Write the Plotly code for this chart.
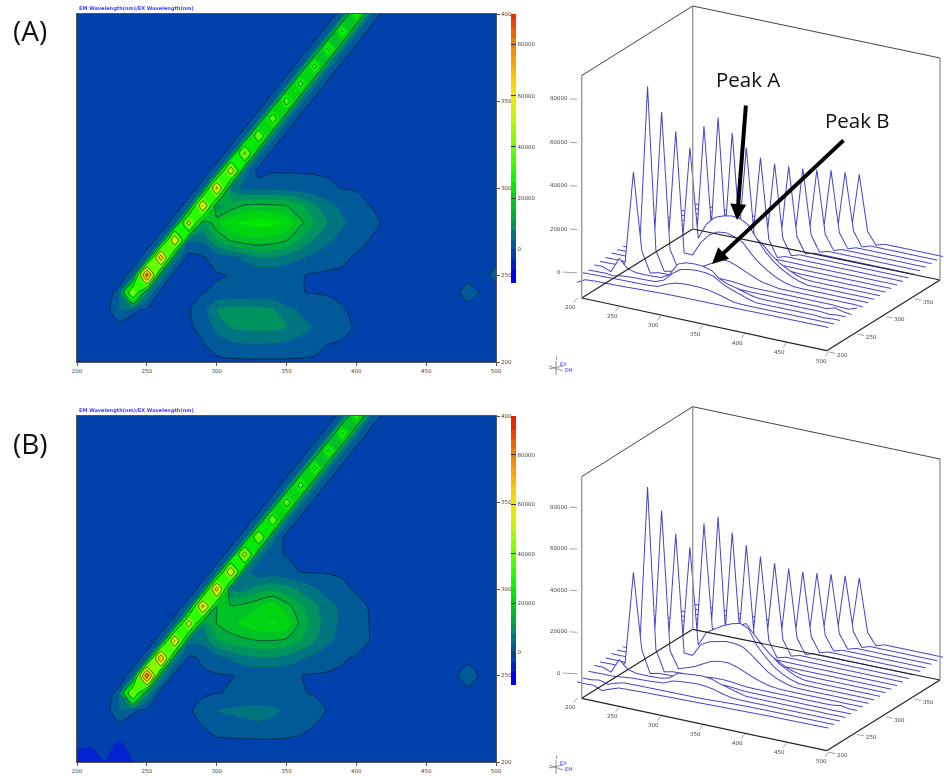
import plotly.graph_objects as go

W, H = 944, 776
em_nm = [200 + 10 * i for i in range(31)]
ex_nm = [200 + 10 * i for i in range(21)]
em_ticks = [200, 250, 300, 350, 400, 450, 500]
ex_ticks = [200, 250, 300, 350, 400]
z_ticks = [0, 20000, 40000, 60000, 80000]

sample_a = [
 [-4200,-2200,-1900,-1800,-1750,-1650,-1500,-1350,-1200,-1100,-900,-800,-750,-700,-700,-650,-650,-600,-550,-500,-450,-400,-350,-300,-300,-250,-250,-200,-200,-150,-150],
 [-1400,-1300,-1200,-1100,-1000,-950,-900,-800,-700,-300,1600,2900,3400,3500,3400,3000,2200,1100,-50,-300,-350,-350,-300,-300,-250,-250,-250,-200,-200,-200,-150],
 [-1800,-1700,-1600,-2000,-1200,-900,-800,-700,-500,1000,4800,7600,8400,8700,8500,7600,5100,3400,2100,700,-300,-350,-300,-300,-250,-250,-250,-200,-600,-200,-150],
 [-1100,-1000,-2600,4400,500,-500,-600,-500,-300,2000,7600,9000,9300,9000,8000,4800,3200,2300,1200,100,-300,-300,-300,-250,-250,-250,-200,-200,-600,-150,-150],
 [-1100,-1000,-900,600,43450,8000,-1500,-500,-400,-100,500,600,600,500,500,400,100,-200,-300,-300,-300,-300,-300,-300,-300,-300,-300,-500,700,-200,-700],
 [-900,-900,-850,-1500,1200,82100,7300,-1500,-600,-400,-300,150,500,600,650,550,150,-300,-350,-350,-300,-300,-300,-300,-300,-300,-300,-300,-600,-700,600],
 [-500,-500,-500,-500,-1500,1200,69500,7000,-1500,-400,1500,2600,4700,7400,7300,6000,4200,2500,1000,400,-300,-300,-300,-300,-250,-250,-250,-200,-200,-200,-500],
 [-530,-500,-480,-450,-400,-1500,1200,59800,4500,4500,11000,15400,17500,18000,17000,15200,10800,7200,4500,2300,800,-100,-300,-300,-300,-250,-250,-250,-200,-200,-200],
 [-600,-550,-500,-450,-400,-350,-1500,1200,51400,10500,18000,21800,23300,24100,23700,21500,16000,11000,7200,4400,2300,700,-300,-300,-300,-250,-250,-250,-200,-200,-200],
 [-500,-500,-450,-400,-400,-350,-300,-1500,1200,60600,9000,12500,15300,15800,15500,14800,11800,8000,5000,2800,1100,-50,-300,-300,-300,-250,-250,-250,-200,-200,-200],
 [-450,-450,-400,-400,-350,-350,-300,-300,-1500,1200,63800,6500,2200,2300,2200,1900,1500,1000,400,-100,-300,-300,-300,-300,-250,-250,-250,-200,-200,-200,-150],
 [-450,-400,-400,-350,-350,-350,-300,-300,-250,-1500,1200,55800,6000,-1500,-350,-300,-300,-300,-300,-300,-300,-300,-250,-250,-250,-250,-200,-200,-200,-200,-150],
 [-400,-400,-350,-350,-350,-300,-300,-300,-250,-250,-1500,1200,48300,6000,-1500,-300,-300,-300,-300,-300,-300,-250,-250,-250,-250,-200,-200,-200,-200,-150,-150],
 [-400,-400,-350,-350,-300,-300,-300,-300,-250,-250,-200,-1500,1200,42800,6000,-1500,-300,-300,-300,-300,-250,-250,-250,-250,-200,-200,-200,-200,-150,-150,-150],
 [-400,-350,-350,-350,-300,-300,-300,-250,-250,-250,-200,-200,-1500,1200,39200,5500,-1500,-300,-300,-300,-250,-250,-250,-250,-200,-200,-200,-200,-150,-150,-150],
 [-350,-350,-350,-300,-300,-300,-300,-250,-250,-200,-200,-200,-200,-1500,1200,37200,5500,-1500,-300,-300,-250,-250,-250,-200,-200,-200,-200,-150,-150,-150,-150],
 [-350,-350,-300,-300,-300,-300,-250,-250,-250,-200,-200,-200,-200,-150,-1500,1200,35400,5500,-1500,-300,-250,-250,-250,-200,-200,-200,-200,-150,-150,-150,-100],
 [-350,-300,-300,-300,-300,-250,-250,-250,-200,-200,-200,-200,-150,-150,-150,-1500,1200,34100,5000,-1500,-250,-250,-200,-200,-200,-200,-150,-150,-150,-150,-100],
 [-300,-300,-300,-300,-250,-250,-250,-200,-200,-200,-200,-150,-150,-150,-150,-150,-1500,1200,33000,5000,-1500,-250,-200,-200,-200,-200,-150,-150,-150,-100,-100],
 [-300,-300,-300,-250,-250,-250,-200,-200,-200,-200,-150,-150,-150,-150,-150,-150,-150,-1500,1200,31300,5000,-1500,-200,-200,-200,-150,-150,-150,-150,-100,-100],
 [-300,-300,-250,-250,-250,-200,-200,-200,-200,-150,-150,-150,-150,-150,-150,-150,-150,-150,-1500,1200,29500,4000,-1500,-200,-200,-150,-150,-150,-100,-100,-100],
]

sample_b = [
 [-3900,-4000,-3800,-5500,-3900,-2500,-2300,-2200,-2000,-1900,-1800,-1700,-1600,-1500,-1400,-1300,-1200,-1100,-1000,-900,-800,-700,-600,-500,-450,-400,-350,-300,-250,-200,-150],
 [-3700,-3700,-3000,-4200,-2700,-1800,-1700,-1600,-1600,-1550,-1500,-1450,-1400,-1400,-1350,-1200,-1000,-800,-600,-500,-400,-350,-300,-300,-250,-250,-250,-200,-200,-200,-150],
 [-2200,-2100,-2000,-2000,-1500,-1000,-800,-700,-400,-50,1800,2400,2700,3000,2700,2000,800,-100,-300,-350,-350,-300,-300,-300,-250,-250,-250,-200,-200,-200,-150],
 [-1100,-1000,-2600,4300,500,-500,-600,-500,-300,700,3900,4300,4800,5000,4500,3100,2000,900,-200,-300,-300,-300,-300,-250,-250,-250,-200,-200,-300,-150,-150],
 [-1100,-1000,-900,600,45400,9100,-1500,-500,-400,-300,-100,200,500,600,600,500,200,-200,-300,-300,-300,-300,-300,-300,-300,-300,-300,-250,-300,-200,-200],
 [-900,-900,-850,-1500,1200,85700,8300,-1500,-600,-400,-300,-100,300,700,800,600,50,-300,-350,-350,-300,-300,-300,-300,-300,-300,-300,-200,500,-200,-200],
 [-500,-500,-500,-500,-1500,1200,73600,7000,-800,500,2000,4200,6200,7000,7100,6000,4300,2600,1200,200,-200,-300,-300,-300,-250,-250,-250,-200,-300,-200,-200],
 [-530,-500,-480,-450,-400,-1500,1200,61600,5000,4700,10800,13000,14000,14900,14800,14000,11200,7800,4500,2400,900,-100,-300,-300,-300,-250,-250,-250,-200,-200,-200],
 [-600,-550,-500,-450,-400,-350,-1500,1200,54200,8000,15000,17500,20000,21700,22800,21000,13800,9300,5400,2900,1000,-100,-300,-300,-300,-250,-250,-250,-200,-200,-200],
 [-500,-500,-450,-400,-400,-350,-300,-1500,1200,64800,15000,15500,16500,18500,21000,16500,12000,8300,5000,2800,700,-200,-300,-300,-300,-250,-250,-250,-200,-200,-200],
 [-450,-450,-400,-400,-350,-350,-300,-300,-1500,1200,67200,6500,6000,9000,10500,9000,6500,4300,2000,500,-300,-300,-300,-300,-250,-250,-250,-200,-200,-200,-150],
 [-450,-400,-400,-350,-350,-350,-300,-300,-250,-1500,1200,58700,6000,1000,1500,800,-50,-300,-300,-300,-300,-300,-250,-250,-250,-250,-200,-200,-200,-200,-150],
 [-400,-400,-350,-350,-350,-300,-300,-300,-250,-250,-1500,1200,51800,6000,300,-100,-300,-300,-300,-300,-300,-250,-250,-250,-250,-200,-200,-200,-200,-150,-150],
 [-400,-400,-350,-350,-300,-300,-300,-300,-250,-250,-200,-1500,1200,45500,6000,-1500,-300,-300,-300,-300,-250,-250,-250,-250,-200,-200,-200,-200,-150,-150,-150],
 [-400,-350,-350,-350,-300,-300,-300,-250,-250,-250,-200,-200,-1500,1200,41500,5500,-1500,-300,-300,-300,-250,-250,-250,-250,-200,-200,-200,-200,-150,-150,-150],
 [-350,-350,-350,-300,-300,-300,-300,-250,-250,-200,-200,-200,-200,-1500,1200,38100,5500,-1500,-300,-300,-250,-250,-250,-200,-200,-200,-200,-150,-150,-150,-150],
 [-350,-350,-300,-300,-300,-300,-250,-250,-250,-200,-200,-200,-200,-150,-1500,1200,35700,5500,-1500,-300,-250,-250,-250,-200,-200,-200,-200,-150,-150,-150,-100],
 [-350,-300,-300,-300,-300,-250,-250,-250,-200,-200,-200,-200,-150,-150,-150,-1500,1200,34200,5000,-1500,-250,-250,-200,-200,-200,-200,-150,-150,-150,-150,-100],
 [-300,-300,-300,-300,-250,-250,-250,-200,-200,-200,-200,-150,-150,-150,-150,-150,-1500,1200,32900,5000,-1500,-250,-200,-200,-200,-200,-150,-150,-150,-100,-100],
 [-300,-300,-300,-250,-250,-250,-200,-200,-200,-200,-150,-150,-150,-150,-150,-150,-150,-1500,1200,31300,5000,-1500,-200,-200,-200,-150,-150,-150,-150,-100,-100],
 [-300,-300,-250,-250,-250,-200,-200,-200,-200,-150,-150,-150,-150,-150,-150,-150,-150,-150,-1500,1200,29400,4000,-1500,-200,-200,-150,-150,-150,-100,-100,-100],
]
for tbl in (sample_a, sample_b):
    for i, r in enumerate(tbl):
        if len(r) != 31:
            print("bad row", i, len(r))

level_colors = ["#0000ff","#0000ff","#0024cc","#0044a8","#005e96","#007a7a","#009858","#00b038","#00c81e","#00dc0a","#00f000",
                "#18ff00","#38ff00","#58ff00","#78ff00","#98fb00","#b8f800","#d0f000","#e8ec00","#f4e400","#f8d400",
                "#f8c000","#f8a800","#f49400","#f08000","#f06400","#f04800","#ee2c00","#ee1800","#ee0800"]

def Fx(x0, x1):
    return [x0 / W, x1 / W]
def Fy(y0, y1):
    return [1 - y1 / H, 1 - y0 / H]

panels = [
    dict(data=sample_a, xa="x", ya="y", sc="scene", top=14, bot=362, cb_top=14, cb_len=269, zend=90000,
         box=[(581.7,298),(826.7,350.7),(940,280),(692.7,229)], ztop=[75.6,6,58], zr=[-11500,90600],
         cy=178.7, lab="(A)", laby=30, title_y=8.5, glyph=368),
    dict(data=sample_b, xa="x2", ya="y2", sc="scene2", top=416, bot=762, cb_top=416, cb_len=269, zend=93750,
         box=[(581.7,698.3),(826.7,750.7),(940,680),(692.7,629.3)], ztop=[476.7,406.7,459], zr=[-11700,94900],
         cy=579, lab="(B)", laby=443, title_y=410.5, glyph=767),
]

fig = go.Figure()
shapes, annos = [], []
layout = {}
eye_dist = 5.0
eye_dir = (0.473, -0.802, 0.364)
LINE = "#4444c8"
TICKFONT = dict(size=5.5, color="#444", family="DejaVu Sans")
PAD_NM = 3
PAD_Z = 1500

for p in panels:
    n = p["xa"][1:]
    nc = int((p["zend"] + 11250) / 3750) + 1
    scale = [[i / (nc - 1), level_colors[i]] for i in range(nc)]
    fig.add_trace(go.Contour(x=em_nm, y=ex_nm, z=p["data"], xaxis=p["xa"], yaxis=p["ya"],
        autocontour=False, contours=dict(start=-11250, end=p["zend"], size=3750, coloring="fill", showlines=False),
        line=dict(width=0, smoothing=0.6), colorscale=scale, hoverinfo="skip",
        colorbar=dict(thickness=5, thicknessmode="pixels", len=p["cb_len"] / H, lenmode="fraction",
                      x=511 / W, xanchor="left", xpad=0, y=1 - p["cb_top"] / H, yanchor="top", ypad=0,
                      tickvals=z_ticks, ticks="inside", ticklen=5, tickcolor="#333", tickwidth=1,
                      tickfont=TICKFONT, outlinewidth=0, tickformat="d")))
    fig.add_trace(go.Contour(x=em_nm, y=ex_nm, z=p["data"], xaxis=p["xa"], yaxis=p["ya"],
        autocontour=False, contours=dict(start=0, end=75000, size=15000, coloring="none"),
        line=dict(width=0.8, color="rgba(0,25,40,0.8)", smoothing=0.6), showscale=False, hoverinfo="skip"))
    layout["xaxis" + n] = dict(domain=Fx(77, 496), range=[200, 500], tickvals=em_ticks, ticks="outside", ticklen=3,
        tickcolor="#555", tickfont=TICKFONT, showgrid=False, zeroline=False,
        showline=True, linecolor="#555", linewidth=1, mirror=True, anchor=p["ya"])
    layout["yaxis" + n] = dict(domain=Fy(p["top"], p["bot"]), range=[200, 400], tickvals=ex_ticks, ticks="outside", ticklen=3,
        tickcolor="#555", tickfont=TICKFONT, showgrid=False, zeroline=False,
        showline=True, linecolor="#555", linewidth=1, mirror=True, side="right", anchor=p["xa"])
    floor = p["zr"][0]
    for ex, row in zip(ex_nm, p["data"]):
        fig.add_trace(go.Surface(x=em_nm, y=[ex + 0.4, ex + 0.4], z=[[floor] * len(row), row], scene=p["sc"],
            surfacecolor=[[0] * len(row), [0] * len(row)], colorscale=[[0, "#ffffff"], [1, "#ffffff"]], showscale=False,
            hoverinfo="skip", lighting=dict(ambient=1, diffuse=0, specular=0, roughness=1, fresnel=0),
            contours=dict(x=dict(highlight=False), y=dict(highlight=False), z=dict(highlight=False))))
        fig.add_trace(go.Scatter3d(x=em_nm, y=[ex] * len(row), z=row, mode="lines", scene=p["sc"],
            line=dict(color=LINE, width=2), hoverinfo="skip", showlegend=False))
    tick_notes = []
    base = dict(showarrow=True, arrowhead=0, arrowwidth=0.6, arrowcolor="#666", font=TICKFONT, bgcolor="rgba(0,0,0,0)")
    for v in z_ticks:
        tick_notes.append(dict(x=200, y=200, z=v, text=str(v), ax=-18, ay=-1, **base))
    for v in em_ticks:
        tick_notes.append(dict(x=v, y=200, z=floor, text=str(v), ax=-7, ay=9, **base))
    for v in ex_ticks[:-1]:
        tick_notes.append(dict(x=500, y=v, z=floor, text=str(v), ax=14, ay=3, **base))
    hidden = dict(visible=False)
    zspan = p["zr"][1] - p["zr"][0]
    layout[p["sc"]] = dict(domain=dict(x=Fx(576.3, 944), y=Fy(p["cy"] - 178, p["cy"] + 178)),
        xaxis=dict(range=[200 - PAD_NM, 500 + PAD_NM], **hidden), yaxis=dict(range=[200 - PAD_NM, 400 + PAD_NM], **hidden),
        zaxis=dict(range=[p["zr"][0] - PAD_Z, p["zr"][1] + PAD_Z], **hidden), annotations=tick_notes,
        aspectmode="manual",
        aspectratio=dict(x=1.64 * (300 + 2 * PAD_NM) / 300, y=1.268 * (200 + 2 * PAD_NM) / 200, z=1.336 * (zspan + 2 * PAD_Z) / zspan),
        camera=dict(projection=dict(type="orthographic"),
                    eye=dict(x=eye_dir[0] * eye_dist, y=eye_dir[1] * eye_dist, z=eye_dir[2] * eye_dist),
                    center=dict(x=0, y=0, z=0), up=dict(x=0, y=0, z=1)))
    b = p["box"]; t = p["ztop"]
    def seg(a, c, col, w):
        shapes.append(dict(type="line", xref="paper", yref="paper", x0=a[0] / W, y0=1 - a[1] / H, x1=c[0] / W, y1=1 - c[1] / H,
                           line=dict(color=col, width=w), layer="above"))
    seg(b[0], b[1], "#222", 1.2); seg(b[1], b[2], "#222", 1.2); seg(b[2], b[3], "#222", 1.2); seg(b[3], b[0], "#222", 1.2)
    seg(b[0], (b[0][0], t[0]), "#999", 1.4); seg(b[3], (b[3][0], t[1]), "#999", 1.4); seg(b[2], (b[2][0], t[2]), "#999", 1.4)
    seg((b[0][0], t[0]), (b[3][0], t[1]), "#444", 1); seg((b[3][0], t[1]), (b[2][0], t[2]), "#444", 1)
    annos.append(dict(text=p["lab"], x=11 / W, y=1 - p["laby"] / H, xref="paper", yref="paper", xanchor="left", yanchor="middle",
                      showarrow=False, font=dict(size=28, color="#111", family="Open Sans")))
    annos.append(dict(text="<b>EM Wavelength(nm)/EX Wavelength(nm)</b>", x=77 / W, y=1 - p["title_y"] / H, xref="paper", yref="paper",
                      xanchor="left", yanchor="middle", showarrow=False, font=dict(size=5, color="#3a3aff", family="DejaVu Sans")))
    g = p["glyph"]
    seg((549, g + 1), (563, g - 2), "#777", 0.8); seg((556, g - 7), (556, g + 7), "#777", 0.8); seg((549, g - 2), (563, g + 3), "#777", 0.8)
    for txt, dx, dy in [("I", 556.5, g - 10), ("EX", 563, g - 4), ("EM", 568, g + 2)]:
        annos.append(dict(text=txt, x=dx / W, y=1 - dy / H, xref="paper", yref="paper", showarrow=False, xanchor="center", yanchor="middle",
                          font=dict(size=5, color="#3a3aff", family="DejaVu Sans")))

for txt, x, y in [("Peak A", 748, 79), ("Peak B", 857, 120)]:
    annos.append(dict(text=txt, x=x / W, y=1 - y / H, xref="paper", yref="paper", showarrow=False, xanchor="center", yanchor="middle",
                      font=dict(size=20.5, color="#111", family="Open Sans")))
for (x0, y0, x1, y1) in [(746, 104, 737, 220), (845, 139, 712, 264)]:
    annos.append(dict(text="", x=x1 / W, y=1 - y1 / H, xref="paper", yref="paper", showarrow=True, ax=x0 - x1, ay=y0 - y1,
                      axref="pixel", ayref="pixel", arrowhead=2, arrowsize=0.8, arrowwidth=4, arrowcolor="#000"))

fig.update_layout(width=W, height=H, margin=dict(l=0, r=0, t=0, b=0, autoexpand=False), paper_bgcolor="#fff", plot_bgcolor="#fff",
                  showlegend=False, shapes=shapes, annotations=annos, **layout)
fig.write_html("out.html", post_script="document.body.style.margin='0';", config=dict(displayModeBar=False))
